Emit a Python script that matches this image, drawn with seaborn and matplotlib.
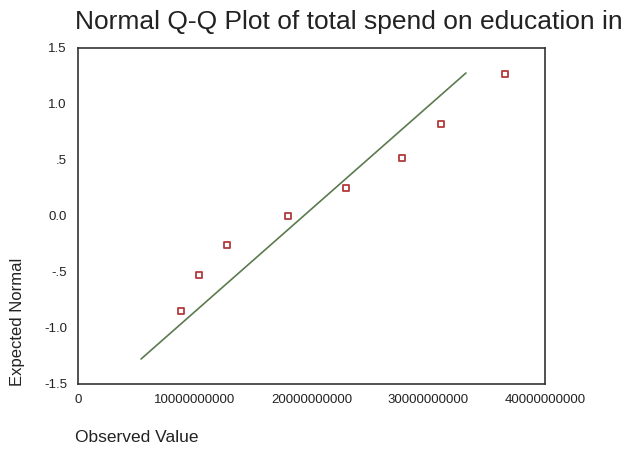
import matplotlib
matplotlib.use("Agg")
import matplotlib.pyplot as plt
import seaborn as sns
import pandas as pd

observed = [0.882e10, 1.036e10, 1.276e10, 1.799e10, 2.295e10, 2.775e10, 3.109e10, 3.657e10]
expected = [-0.85, -0.53, -0.26, 0.0, 0.25, 0.52, 0.82, 1.27]
line_x = [0.54e10, 3.323e10]
line_y = [-1.277, 1.277]
xticks = [0, 1e10, 2e10, 3e10, 4e10]
xtick_labels = ["0", "10000000000", "20000000000", "30000000000", "40000000000"]
yticks = [1.5, 1.0, 0.5, 0.0, -0.5, -1.0, -1.5]
ytick_labels = ["1.5", "1.0", ".5", "0.0", "-.5", "-1.0", "-1.5"]

sns.set_style("white")
plt.rcParams['font.family'] = ['Liberation Sans', 'DejaVu Sans']

fig = plt.figure(figsize=(6.31, 4.54), dpi=100)
ax = fig.add_axes([78/631, 1-384/454, (545-78)/631, (384-48)/454])

pts = pd.DataFrame({"obs": observed, "exp": expected})
ln = pd.DataFrame({"x": line_x, "y": line_y})
sns.lineplot(data=ln, x="x", y="y", ax=ax, color="#5b7a4e", linewidth=1.2)
sns.scatterplot(data=pts, x="obs", y="exp", ax=ax, marker="s", s=22,
                facecolor="white", edgecolor="#b23a3a", linewidth=1.3, zorder=3)

ax.set_xlim(0, 4e10)
ax.set_ylim(-1.5, 1.5)
ax.set_xticks(xticks)
ax.set_xticklabels(xtick_labels, fontsize=9.5)
ax.set_yticks(yticks)
ax.set_yticklabels(ytick_labels, fontsize=9.5)
ax.tick_params(direction="in", length=3, width=1, colors="#222222")
ax.tick_params(axis="x", pad=7)
ax.tick_params(axis="y", pad=8)
for s in ax.spines.values():
    s.set_color("#333333")
    s.set_linewidth(1.2)
ax.set_xlabel("")
ax.set_ylabel("")

fig.text(75/631, 1-22/454, "Normal Q-Q Plot of total spend on education in", fontsize=19,
         ha="left", va="center", color="#222222")
fig.text(75/631, 1-438/454, "Observed Value", fontsize=12.5, ha="left", va="center", color="#222222")
fig.text(18/631, 1-386/454, "Expected Normal", fontsize=12, rotation=90, ha="center", va="bottom",
         color="#222222")

fig.savefig("out.png", dpi=100)
